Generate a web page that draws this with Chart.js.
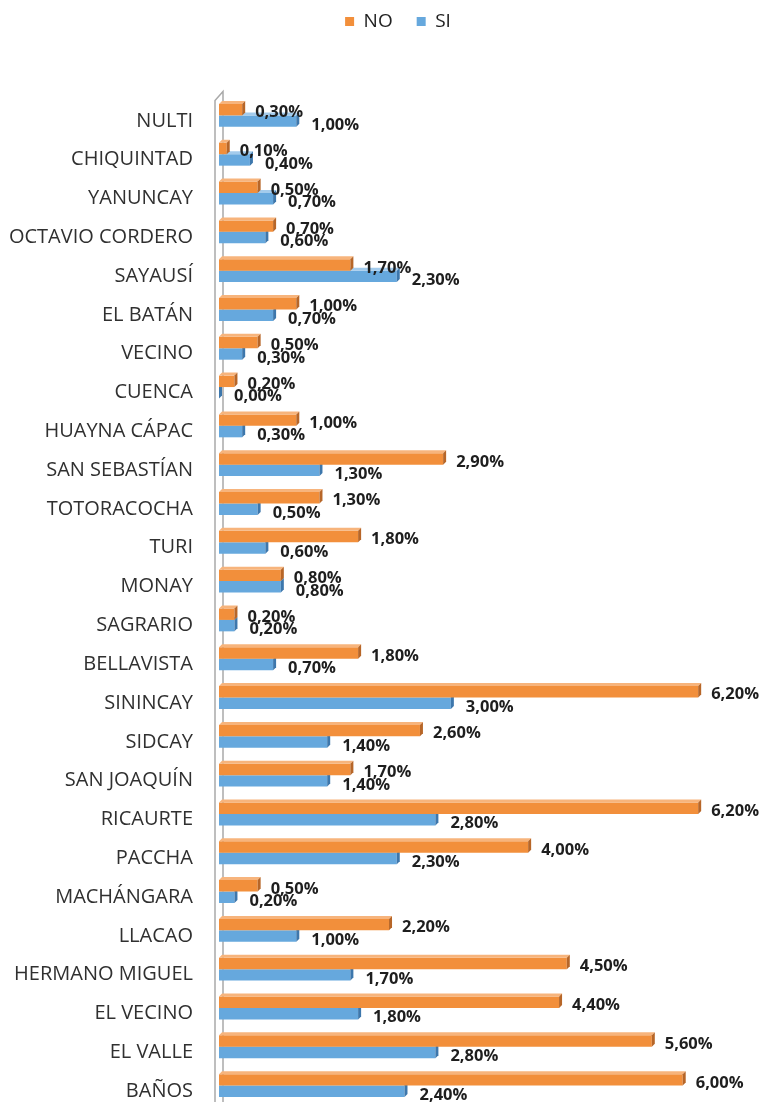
<!DOCTYPE html>
<html>
<head>
<meta charset="utf-8">
<script src="https://cdn.jsdelivr.net/npm/chart.js@4/dist/chart.umd.min.js"></script>
<style>
  html, body { margin: 0; padding: 0; background: #fff; overflow: hidden; }
  #wrap { width: 760px; height: 1105px; position: relative; }
</style>
</head>
<body>
<div id="wrap"><canvas id="myChart"></canvas></div>
<script>
const parroquias = [
    'NULTI', 'CHIQUINTAD', 'YANUNCAY', 'OCTAVIO CORDERO', 'SAYAUSÍ', 'EL BATÁN',
    'VECINO', 'CUENCA', 'HUAYNA CÁPAC', 'SAN SEBASTÍAN', 'TOTORACOCHA', 'TURI',
    'MONAY', 'SAGRARIO', 'BELLAVISTA', 'SININCAY', 'SIDCAY', 'SAN JOAQUÍN',
    'RICAURTE', 'PACCHA', 'MACHÁNGARA', 'LLACAO', 'HERMANO MIGUEL', 'EL VECINO',
    'EL VALLE', 'BAÑOS'
];
const valoresNo = [
    0.3, 0.1, 0.5, 0.7, 1.7, 1.0,
    0.5, 0.2, 1.0, 2.9, 1.3, 1.8,
    0.8, 0.2, 1.8, 6.2, 2.6, 1.7,
    6.2, 4.0, 0.5, 2.2, 4.5, 4.4,
    5.6, 6.0
];
const valoresSi = [
    1.0, 0.4, 0.7, 0.6, 2.3, 0.7,
    0.3, 0.0, 0.3, 1.3, 0.5, 0.6,
    0.8, 0.2, 0.7, 3.0, 1.4, 1.4,
    2.8, 2.3, 0.2, 1.0, 1.7, 1.8,
    2.8, 2.4
];

const FONT = "'Open Sans', 'DejaVu Sans', sans-serif";
const DEPTH = 3;

// colores de cada serie: frente, tapa, costado
const caras = [
    { front: '#F28F3B', top: '#F7B47C', side: '#B76628' },
    { front: '#66A8DD', top: '#A3CBEC', side: '#3D77AC' }
];

// pared gris a la izquierda (efecto 3D de Excel)
const pared = {
    id: 'pared',
    beforeDatasetsDraw(chart) {
        const { ctx, chartArea } = chart;
        const x = chartArea.left;
        ctx.save();
        ctx.strokeStyle = '#A9A9A9';
        ctx.lineWidth = 1.5;
        ctx.beginPath();
        ctx.moveTo(x - 4, chartArea.bottom);
        ctx.lineTo(x - 4, chartArea.top + 4.5);
        ctx.lineTo(x + 4, chartArea.top - 4.5);
        ctx.lineTo(x + 4, chartArea.bottom);
        ctx.stroke();
        ctx.restore();
    }
};

// tapa y costado de cada barra
const barras3d = {
    id: 'barras3d',
    afterDatasetDraw(chart, args) {
        const { ctx } = chart;
        const c = caras[args.index];
        args.meta.data.forEach(bar => {
            const { x, y, base, height } = bar.getProps(['x', 'y', 'base', 'height'], true);
            const top = y - height / 2;
            const bottom = y + height / 2;
            ctx.save();
            ctx.fillStyle = c.top;
            ctx.beginPath();
            ctx.moveTo(base, top);
            ctx.lineTo(base + DEPTH, top - DEPTH);
            ctx.lineTo(x + DEPTH, top - DEPTH);
            ctx.lineTo(x, top);
            ctx.closePath();
            ctx.fill();
            ctx.fillStyle = c.side;
            ctx.beginPath();
            ctx.moveTo(x, top);
            ctx.lineTo(x + DEPTH, top - DEPTH);
            ctx.lineTo(x + DEPTH, bottom - DEPTH);
            ctx.lineTo(x, bottom);
            ctx.closePath();
            ctx.fill();
            ctx.restore();
        });
    }
};

// etiquetas de valor
const etiquetas = {
    id: 'etiquetas',
    afterDatasetsDraw(chart) {
        const { ctx } = chart;
        ctx.save();
        ctx.font = 'bold 16.5px ' + FONT;
        ctx.fillStyle = '#1E1E1E';
        ctx.textBaseline = 'middle';
        ctx.textAlign = 'left';
        chart.data.datasets.forEach((ds, i) => {
            const meta = chart.getDatasetMeta(i);
            meta.data.forEach((bar, j) => {
                const texto = ds.data[j].toFixed(2).replace('.', ',') + '%';
                const dx = i === 0 ? 13 : 15;
                const dy = i === 0 ? 3 : 4;
                ctx.fillText(texto, bar.x + dx, bar.y + dy);
            });
        });
        ctx.restore();
    }
};

// espacio bajo la leyenda y ajuste de su posicion
const leyenda = {
    id: 'leyenda',
    beforeInit(chart) {
        const fit = chart.legend.fit;
        chart.legend.fit = function () {
            fit.call(this);
            this.height = 96;
        };
    },
    afterLayout(chart) {
        chart.legend.left += 18;
        chart.legend.right += 18;
        chart.legend.top -= 12;
    }
};

const chart = new Chart(document.getElementById('myChart'), {
    type: 'bar',
    data: {
        labels: parroquias,
        datasets: [
            {
                label: 'NO',
                data: valoresNo,
                backgroundColor: caras[0].front,
                borderWidth: 0,
                categoryPercentage: 0.59,
                barPercentage: 1
            },
            {
                label: 'SI',
                data: valoresSi,
                backgroundColor: caras[1].front,
                borderWidth: 0,
                categoryPercentage: 0.59,
                barPercentage: 1
            }
        ]
    },
    options: {
        indexAxis: 'y',
        responsive: true,
        maintainAspectRatio: false,
        animation: false,
        layout: { padding: 0 },
        scales: {
            x: {
                display: false,
                min: 0,
                max: 7
            },
            y: {
                grid: { display: false, drawTicks: false },
                border: { display: false },
                ticks: {
                    color: '#303030',
                    padding: 26,
                    labelOffset: 5.5,
                    font: { family: FONT, size: 20 }
                },
                afterFit(scale) {
                    scale.width = 219;
                    scale.paddingTop = 0;
                    scale.paddingBottom = 0;
                }
            }
        },
        plugins: {
            tooltip: { enabled: false },
            legend: {
                position: 'top',
                labels: {
                    boxWidth: 9,
                    boxHeight: 9,
                    padding: 24,
                    color: '#222',
                    font: { family: FONT, size: 19 }
                }
            }
        }
    },
    plugins: [pared, barras3d, etiquetas, leyenda]
});
</script>
</body>
</html>
